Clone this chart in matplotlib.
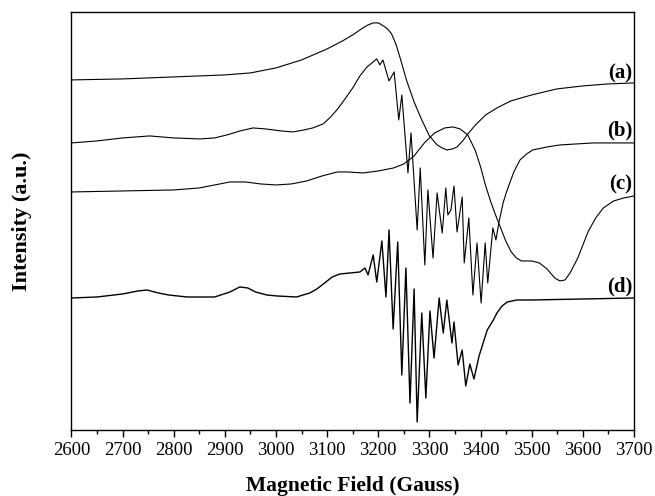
#EPR spectra (a)-(d) stacked with vertical offsets
import matplotlib
matplotlib.use('Agg')
import matplotlib.pyplot as plt
from matplotlib.ticker import MultipleLocator

plt.rcParams['font.family'] = ['Liberation Serif', 'DejaVu Serif']

# Values: field in Gauss, intensity in arbitrary units (offset already included)
a_field = [2600, 2700, 2800, 2900, 2950, 3000, 3050, 3100, 3130, 3150, 3170, 3180, 3190, 3200, 3210,
           3218, 3226, 3235, 3245, 3255, 3270, 3285, 3300, 3315, 3325, 3334, 3345, 3354, 3365, 3375,
           3390, 3410, 3432, 3459, 3500, 3549, 3600, 3649, 3700]
a_int = [350, 351, 353, 355, 357, 362, 370, 381, 389, 395, 402, 405, 407, 407, 404,
         401, 396, 385, 368, 350, 328, 310, 294, 285, 282, 280, 281, 283, 289, 296,
         305, 315, 322, 329, 335, 341, 344, 346, 347]

b_field = [2600, 2650, 2700, 2753, 2800, 2851, 2880, 2904, 2930, 2955, 2980, 3010, 3033, 3055, 3072,
           3092, 3105, 3119, 3135, 3150, 3164, 3178, 3190, 3197, 3203, 3209, 3221, 3231, 3240, 3246,
           3258, 3264, 3276, 3282, 3291, 3297, 3307, 3315, 3325, 3332, 3336, 3342, 3348, 3354, 3364,
           3368, 3377, 3385, 3393, 3401, 3409, 3414, 3424, 3430, 3436, 3444, 3450, 3457, 3465, 3477,
           3490, 3502, 3530, 3555, 3620, 3700]
b_int = [287, 289, 292, 294, 292, 291, 292, 295, 299, 302, 301, 299, 298, 300, 302,
         306, 312, 320, 331, 342, 354, 363, 368, 371, 365, 370, 349, 358, 310, 335,
         257, 297, 200, 262, 165, 240, 172, 237, 197, 242, 215, 220, 244, 198, 233,
         167, 212, 135, 187, 127, 187, 147, 202, 190, 208, 227, 237, 247, 258, 270,
         276, 280, 283, 285, 287, 287]

c_field = [2600, 2700, 2800, 2850, 2880, 2910, 2940, 2970, 3000, 3030, 3060, 3090, 3120, 3140, 3170,
           3200, 3230, 3250, 3270, 3290, 3310, 3330, 3346, 3360, 3375, 3390, 3400, 3410, 3420, 3430,
           3440, 3450, 3460, 3470, 3480, 3500, 3515, 3530, 3545, 3555, 3565, 3575, 3590, 3600, 3610,
           3625, 3640, 3660, 3680, 3700]
c_int = [238, 239, 240, 242, 245, 248, 248, 246, 245, 246, 249, 254, 258, 258, 257,
         259, 262, 266, 274, 287, 297, 302, 303, 301, 295, 279, 263, 244, 228, 214,
         201, 188, 178, 172, 169, 169, 167, 161, 152, 149, 150, 157, 172, 185, 198,
         212, 222, 229, 232, 234]

d_field = [2600, 2650, 2700, 2730, 2748, 2770, 2790, 2826, 2880, 2910, 2929, 2945, 2960, 2982, 3002,
           3040, 3066, 3080, 3095, 3110, 3125, 3145, 3164, 3174, 3180, 3190, 3197, 3207, 3215, 3221,
           3229, 3238, 3246, 3254, 3262, 3270, 3276, 3285, 3293, 3301, 3309, 3319, 3327, 3334, 3344,
           3348, 3356, 3364, 3371, 3379, 3387, 3397, 3413, 3425, 3432, 3442, 3452, 3471, 3500, 3600,
           3700]
d_int = [132, 133, 136, 139, 140, 137, 135, 133, 133, 138, 143, 142, 138, 135, 134,
         133, 137, 141, 147, 153, 156, 157, 158, 162, 155, 175, 148, 189, 133, 200,
         101, 188, 55, 162, 27, 141, 8, 117, 32, 119, 72, 132, 97, 130, 87,
         108, 65, 80, 44, 66, 51, 74, 100, 110, 117, 124, 128, 130, 130, 131,
         132]

labels = ['(a)', '(b)', '(c)', '(d)']
label_y = [356, 299, 245, 144]

fig = plt.figure(figsize=(6.55, 4.96), dpi=100)
ax = fig.add_axes([0.109, 0.133, 0.859, 0.843])

for f, v in [(a_field, a_int), (b_field, b_int), (c_field, c_int)]:
    ax.plot(f, v, color='black', lw=0.8)
ax.plot(d_field, d_int, color='black', lw=1.0)

for lab, yy in zip(labels, label_y):
    ax.text(3697, yy, lab, ha='right', va='center', fontsize=15, fontweight='bold')

ax.set_xlim(2600, 3700)
ax.set_ylim(0, 418)
ax.xaxis.set_major_locator(MultipleLocator(100))
ax.xaxis.set_minor_locator(MultipleLocator(50))
ax.tick_params(axis='x', which='major', length=5, width=1, labelsize=13.5, direction='out')
ax.tick_params(axis='x', which='minor', length=3, width=1, direction='out')
ax.set_yticks([])
for s in ax.spines.values():
    s.set_linewidth(1.0)

ax.set_xlabel('Magnetic Field (Gauss)', fontsize=15.5, fontweight='bold', labelpad=12)
ax.set_ylabel('Intensity (a.u.)', fontsize=16, fontweight='bold')
ax.yaxis.set_label_coords(-0.07, 0.5)

fig.savefig('out.png', dpi=100)
